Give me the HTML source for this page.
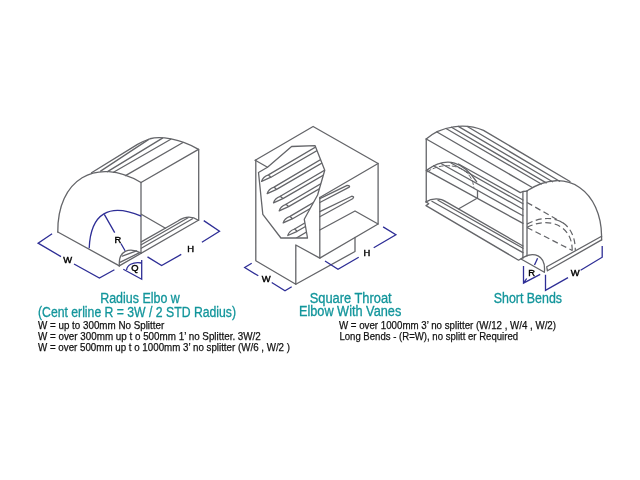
<!DOCTYPE html>
<html><head><meta charset="utf-8">
<style>
html,body{margin:0;padding:0;background:#fff;width:640px;height:480px;overflow:hidden}
svg{display:block}
.g{fill:none;stroke:#646569;stroke-width:1.3;stroke-linejoin:round;stroke-linecap:round}
.b{fill:none;stroke:#2e2e96;stroke-width:1.3;stroke-linecap:butt}
.d{fill:none;stroke:#626367;stroke-width:1.2;stroke-dasharray:6 3.5}
.t{font-family:"Liberation Sans",sans-serif;fill:#12959b;stroke:#12959b;stroke-width:0.3;font-size:13.8px}
.k{font-family:"Liberation Sans",sans-serif;fill:#111;stroke:#111;stroke-width:0.25;font-size:11.2px}
.lb{font-family:"Liberation Sans",sans-serif;fill:#000;stroke:#000;stroke-width:0.45;font-size:9.4px}
</style></head>
<body>
<div style="will-change:transform;width:640px;height:480px"><svg width="640" height="480" viewBox="0 0 640 480">
<!-- FIGURE 1 -->
<g class="g" id="f1">
  <path d="M57.8,232.0 C57.3,179.8 95.5,156.0 141.0,182.5"/>
  <path d="M57.8,232 L119.4,265.9"/>
  <path d="M141,182.5 V253.1"/>
  <path d="M198.7,149.4 V220.4"/>
  <path d="M141,182.5 L198.5,149.4"/>
  <!-- back arc visible part -->
  <path d="M91.5,172.7 L137.5,144.4 Q143.75,140.9 150,138.75 C160,136 180,138.5 198.5,149.4"/>
  <path d="M100.6,171.1 L148.75,139.4"/>
  <path d="M107.5,171.6 L162.5,138.1"/>
  <path d="M113.5,172.2 L170.8,139.2"/>
  <path d="M125.5,175.6 L183,142.5"/>
  <!-- inner line -->
  <path d="M141.25,214.2 L165.5,228.2"/>
  <!-- small pipe -->
  <path d="M119.4,265.9 C118.0,250.6 129.3,246.9 141.2,253.1"/>
  <path d="M119.2,265.9 L198.4,220.3"/>
  <path d="M141.25,241.9 L177.5,221.25 C181,219 185,217.2 188.75,217.2 C192,217.2 195.5,218.3 198.4,220.3"/>
  <path d="M141.25,244.7 L188.1,217.8"/>
  <path d="M141.25,248.2 L192.5,218.75"/>
  <path d="M119.9,262.3 L139.5,252.7"/>
  <path d="M122.3,256.2 L136.5,250.8"/>
</g>
<g class="b">
  <path d="M89.2,248.2 C90.6,213.0 109.6,202.5 141.2,216.2"/>
  <path d="M104.3,214.4 L114.7,232.6 M120.9,243.5 L125.1,250.8"/>
  <path d="M52.1,233.7 L38.1,243.1 L61,256.6 M74,264 L99.4,278 L114.4,269.7"/>
  <path d="M126.6,270 C127,265.5 132,261.6 141.7,263 M141.7,260 V279.2 L123.3,269.2"/>
  <path d="M147.5,256.9 L161.6,265.6 L181.25,254.4 M201.9,242.2 L219.5,231.3 L203.75,220.6"/>
</g>
<text class="lb" x="114.5" y="243">R</text>
<text class="lb" x="63.2" y="263.2">W</text>
<text class="lb" x="131.3" y="271">Q</text>
<text class="lb" x="187.3" y="252.2">H</text>
<!-- FIGURE 2 -->
<defs>
  <clipPath id="cut2"><path d="M267.5,167.25 L291.6,146.5 L315,145.6 L324.75,170.3 L317.6,195 L304.25,219.2 L307.5,238 L280.9,238 L262.8,214.3 L258.5,172.5 Z"/></clipPath>
</defs>
<g class="g" id="f2">
  <path d="M255.25,160.3 L313.1,126.5 L378.1,163.5 L319.8,197.5"/>
  <path d="M255.25,160.3 L267.5,167.25"/>
  <path d="M255.8,160.3 V260.8 L295.8,284.2 V245 L319.8,258.1"/>
  <path d="M295.8,284.2 L355,251.5 V237.5"/>
  <path d="M319.8,197.5 V258.1 L378.1,224 V163.5"/>
  <path d="M319.8,230 L355,211 L378.1,224"/>
  <path d="M267.5,167.25 L291.6,146.5 L315,145.6 L324.75,170.3 L317.6,195 L304.25,219.2 L307.5,238 L280.9,238 L262.8,214.3 L258.5,172.5 Z"/>
  <g clip-path="url(#cut2)">
<path d="M261.6,181.4 Q262.8,176.9 268.4,174.9 L328.4,139.5 M261.6,181.4 L271.0,177.2 L331.0,142.4 M268.4,174.9 L271.0,177.2"/>
<path d="M267.2,193.6 Q268.4,189.1 274.0,187.1 L334.0,151.7 M267.2,193.6 L276.6,189.4 L336.6,154.6 M274.0,187.1 L276.6,189.4"/>
<path d="M273.5,202.8 Q274.7,198.3 280.3,196.3 L340.3,160.9 M273.5,202.8 L282.9,198.6 L342.9,163.8 M280.3,196.3 L282.9,198.6"/>
<path d="M279.2,210.8 Q280.4,206.3 286.0,204.3 L346.0,168.9 M279.2,210.8 L288.6,206.6 L348.6,171.8 M286.0,204.3 L288.6,206.6"/>
<path d="M283.2,222.9 Q284.4,218.4 290.0,216.4 L350.0,181.0 M283.2,222.9 L292.6,218.7 L352.6,183.9 M290.0,216.4 L292.6,218.7"/>
<path d="M287.8,235.5 Q289.0,231.0 294.6,229.0 L354.6,193.6 M287.8,235.5 L297.2,231.3 L357.2,196.5 M294.6,229.0 L297.2,231.3"/>
<path d="M296.4,238 L330,218"/>
  </g>
  <path d="M319.8,198.6 L347.2,185.4 Q350.5,185.5 349.25,187.2 L319.8,202.5"/>
  <path d="M319.8,211.7 L351.75,196.25 Q355,196.5 352.6,198.75 L319.8,216.7"/>
</g>
<g class="b">
  <path d="M251.7,263.3 L244.7,267.5 L258.3,275.8 M271.7,282.5 L285,290.8 L291.7,286.7"/>
  <path d="M325,261 L338,269.3 L358.7,257.2 M373.7,247.8 L395.9,234.75 L383.1,226.9"/>
</g>
<text class="lb" x="261.7" y="282.1">W</text>
<text class="lb" x="363.6" y="256.3">H</text>
<!-- FIGURE 3 -->
<g class="g" id="f3">
  <path d="M426.2,139.0 C441.1,125.6 465.4,122.7 483.5,130.4 L570,181.5"/>
  <path d="M426.25,139 V201.9"/>
  <path d="M426.25,139 L520.3,192.6 L522.9,191.5 L527,191.2"/>
  <path d="M437,132 L531.9,187.3"/>
  <path d="M446,128.5 L541.3,184"/>
  <path d="M451.5,127.3 L546.25,182.9"/>
  <path d="M458.3,126.4 L552.6,181.7"/>
  <path d="M467.3,126.5 L559.6,181.2"/>
  <path d="M526.7,191.0 C568.0,164.4 601.3,193.0 601.6,236.2 V239.9"/>
  <path d="M522.9,191.6 V258.3 M527,191.2 V256"/>
  <!-- splitter -->
  <path d="M426.4,170.4 C447.3,155.2 463.7,162.2 476.7,181.9"/>
  <path d="M427.4,171.8 C443.7,160.3 471.6,164.7 473.8,187.6" stroke-dasharray="4 2.5" stroke-width="1"/>
  <path d="M477.5,191 V198.2"/>
  <path d="M458.5,164 L523,200"/>
  <path d="M451,163 L523,203.8"/>
  <path d="M441,163.5 L523,209.2"/>
  <path d="M433.6,165.8 L523,215.8"/>
  <path d="M426.4,170.4 L523,223.4"/>
  <!-- pipe -->
  <path d="M426.0,201.9 C431.9,198.1 440.4,197.9 446.2,201.9 L523,246"/>
  <path d="M438,200.3 L523,248.3"/>
  <path d="M431.9,201.25 L523,252.6"/>
  <path d="M426,201.9 L428.75,203.75 L426,205.6 L518.6,260.2 L523,257.5"/>
  <path d="M458.75,208.75 L476.25,198.75"/>
  <!-- front face -->
  <path d="M522.9,257.6 C533,251.5 546,254.5 544.4,271.8"/>
  <path d="M521,259 L544.4,272.3"/>
  <path d="M547.4,270.8 L546.75,266.8 L601.6,236.2 M547.4,270.8 L601.6,239.9"/>
</g>
<g class="d">
  <path d="M527,202.4 L564,223.6"/>
  <path d="M527.0,224.1 C550,211.5 575.5,220 575.3,250.6"/>
  <path d="M527.0,227.4 C548,216.5 572.5,224.5 572.2,250.6"/>
  <path d="M527,227.5 L572.4,250.5"/>
</g>
<g class="b">
  <path d="M537.6,258.2 L534.5,265"/>
  <path d="M523.5,266 V283.2 L540.2,274.4 M523.5,283.2 L526.7,278.5"/>
  <path d="M545.5,274.8 V290.4 L568,277.6 M580.6,270.3 L602.2,257.2 V246"/>
</g>
<text class="lb" x="528.3" y="275.8">R</text>
<text class="lb" x="570.8" y="275.7">W</text>
<!-- TEXT -->
<g class="t">
  <text x="100.2" y="302.9" textLength="79.6" lengthAdjust="spacingAndGlyphs">Radius Elbo w</text>
  <text x="38" y="316.6" textLength="198" lengthAdjust="spacingAndGlyphs">(Cent erline R = 3W / 2 STD Radius)</text>
  <text x="309.7" y="303.4" textLength="82" lengthAdjust="spacingAndGlyphs">Square Throat</text>
  <text x="298.9" y="315.5" textLength="102.4" lengthAdjust="spacingAndGlyphs">Elbow With Vanes</text>
  <text x="493.75" y="302.8" textLength="68.25" lengthAdjust="spacingAndGlyphs">Short Bends</text>
</g>
<g class="k">
  <text x="38" y="329.2" textLength="126.2" lengthAdjust="spacingAndGlyphs">W = up to 300mm No Splitter</text>
  <text x="38" y="340.4" textLength="222.8" lengthAdjust="spacingAndGlyphs">W = over 300mm up t o 500mm 1’ no Splitter. 3W/2</text>
  <text x="38" y="351.1" textLength="252" lengthAdjust="spacingAndGlyphs">W = over 500mm up t o 1000mm 3’ no splitter (W/6 , W/2 )</text>
  <text x="338.9" y="329.3" textLength="217.1" lengthAdjust="spacingAndGlyphs">W = over 1000mm 3’ no splitter (W/12 , W/4 , W/2)</text>
  <text x="339.4" y="340.2" textLength="178.7" lengthAdjust="spacingAndGlyphs">Long Bends - (R=W), no splitt er Required</text>
</g>
</svg></div>
</body></html>
